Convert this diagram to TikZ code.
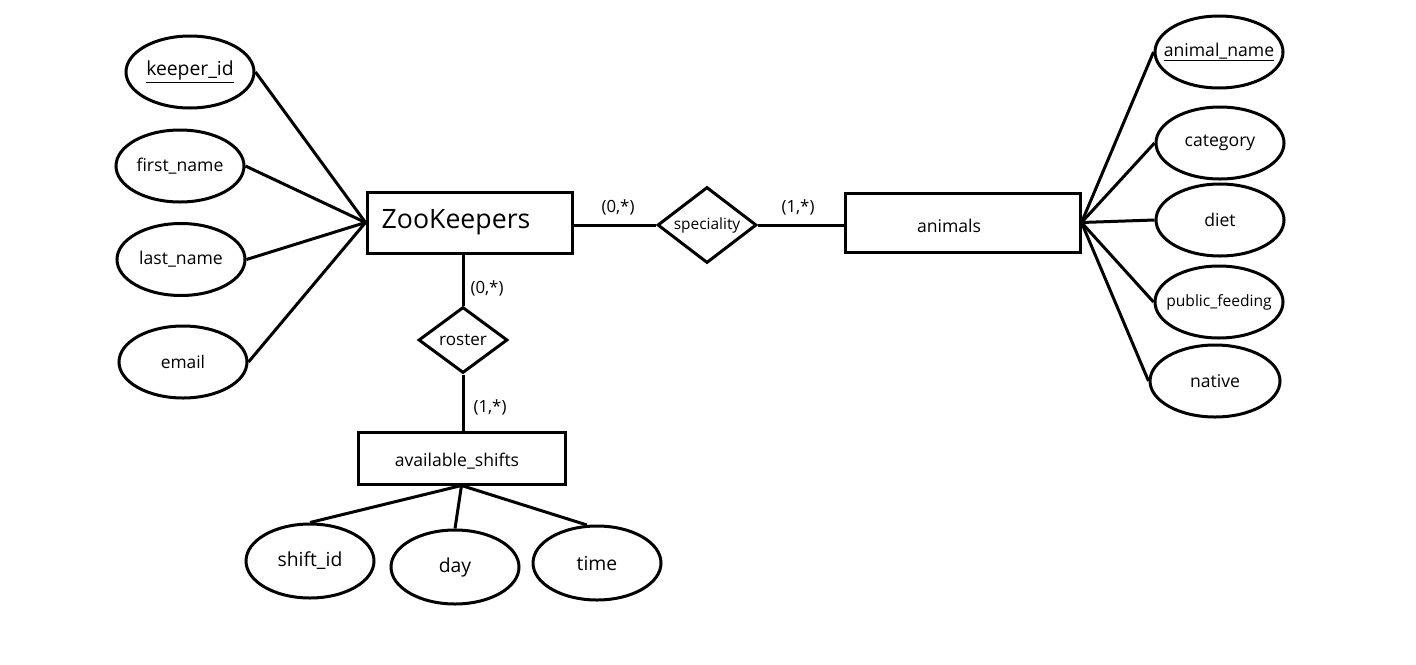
\documentclass[tikz,border=0pt]{standalone}
\usepackage{fontspec}
\setmainfont{Open Sans}
\usetikzlibrary{shapes.geometric}
\newcommand{\setfs}[1]{\fontsize{#1}{#1}\selectfont}
\begin{document}
\begin{tikzpicture}[x=0.75pt,y=-0.75pt,line width=2.25pt,
  attr/.style={ellipse,draw,inner sep=0pt,minimum width=96pt,minimum height=54pt},
  entity/.style={rectangle,draw,inner sep=0pt},
  rel/.style={diamond,draw,inner sep=0pt},
  card/.style={font=\setfs{12.6}},
  conn/.style={line width=2.25pt}]
\useasboundingbox (0,0) rectangle (1416,664);
% ZooKeepers side
\node[attr,label={center:\setfs{14.5}\underline{keeper\_id}}] (kid) at (190,72) {};
\node[attr,label={center:\setfs{13.2}first\_name}] (fn) at (180,166) {};
\node[attr,label={center:\setfs{13.2}last\_name}] (ln) at (181,259.5) {};
\node[attr,label={center:\setfs{13}email}] (em) at (183,362) {};
\node[entity,minimum width=153.75pt,minimum height=45.75pt,
  label={[xshift=-10.1pt]center:\setfs{20}ZooKeepers}] (zk) at (469.5,222.5) {};
\node[rel,minimum width=66.75pt,minimum height=49.5pt,
  label={center:\setfs{12.8}roster}] (ro) at (463,340) {};
\node[entity,minimum width=155.25pt,minimum height=39pt,
  label={[xshift=-3.4pt,yshift=-2pt]center:\setfs{13.2}available\_shifts}] (av) at (461.5,458) {};
\node[attr,minimum height=55.5pt,label={center:\setfs{14.5}shift\_id}] (sid) at (310,561) {};
\node[attr,minimum height=55.5pt,label={center:\setfs{14.5}day}] (day) at (455,567) {};
\node[attr,minimum height=55.5pt,label={center:\setfs{14.5}time}] (tim) at (597,563) {};
% relationship speciality
\node[rel,minimum width=74.25pt,minimum height=57pt,
  label={center:\setfs{11.6}speciality}] (sp) at (707,225) {};
\node[entity,minimum width=176.25pt,minimum height=44.25pt,
  label={[xshift=-10.1pt,yshift=-2.6pt]center:\setfs{13.2}animals}] (an) at (962.5,222.5) {};
% animals attributes
\node[attr,label={center:\setfs{13.2}\underline{animal\_name}}] (anm) at (1219,52) {};
\node[attr,label={center:\setfs{13.2}category}] (cat) at (1220,143) {};
\node[attr,label={center:\setfs{13.2}diet}] (die) at (1220,220) {};
\node[attr,label={center:\setfs{11.7}public\_feeding}] (pf) at (1219,302) {};
\node[attr,minimum width=97.5pt,label={center:\setfs{13.2}native}] (nat) at (1215,381) {};
% connectors
\draw[conn] (kid.east) -- (zk.west);
\draw[conn] (fn.east) -- (zk.west);
\draw[conn] (ln.east) -- (zk.west);
\draw[conn] (em.east) -- (zk.west);
\draw[conn] (ro.north) -- (ro.north |- zk.south);
\draw[conn] (ro.south) -- (ro.south |- av.north);
\draw[conn] (av.south) -- (sid.north);
\draw[conn] (av.south) -- (day.north);
\draw[conn] (av.south) -- (tim.105);
\draw[conn] (sp.west) -- (sp.west -| zk.east);
\draw[conn] (sp.east) -- (sp.east -| an.west);
\draw[conn] (an.east) -- (anm.west);
\draw[conn] (an.east) -- (cat.west);
\draw[conn] (an.east) -- (die.west);
\draw[conn] (an.east) -- (pf.west);
\draw[conn] (an.east) -- (nat.west);
% cardinalities
\node[card] (c1) at (618,207) {(0,*)};
\node[card] (c2) at (798,207) {(1,*)};
\node[card] (c3) at (487,288) {(0,*)};
\node[card] (c4) at (490,407) {(1,*)};
\end{tikzpicture}
\end{document}
